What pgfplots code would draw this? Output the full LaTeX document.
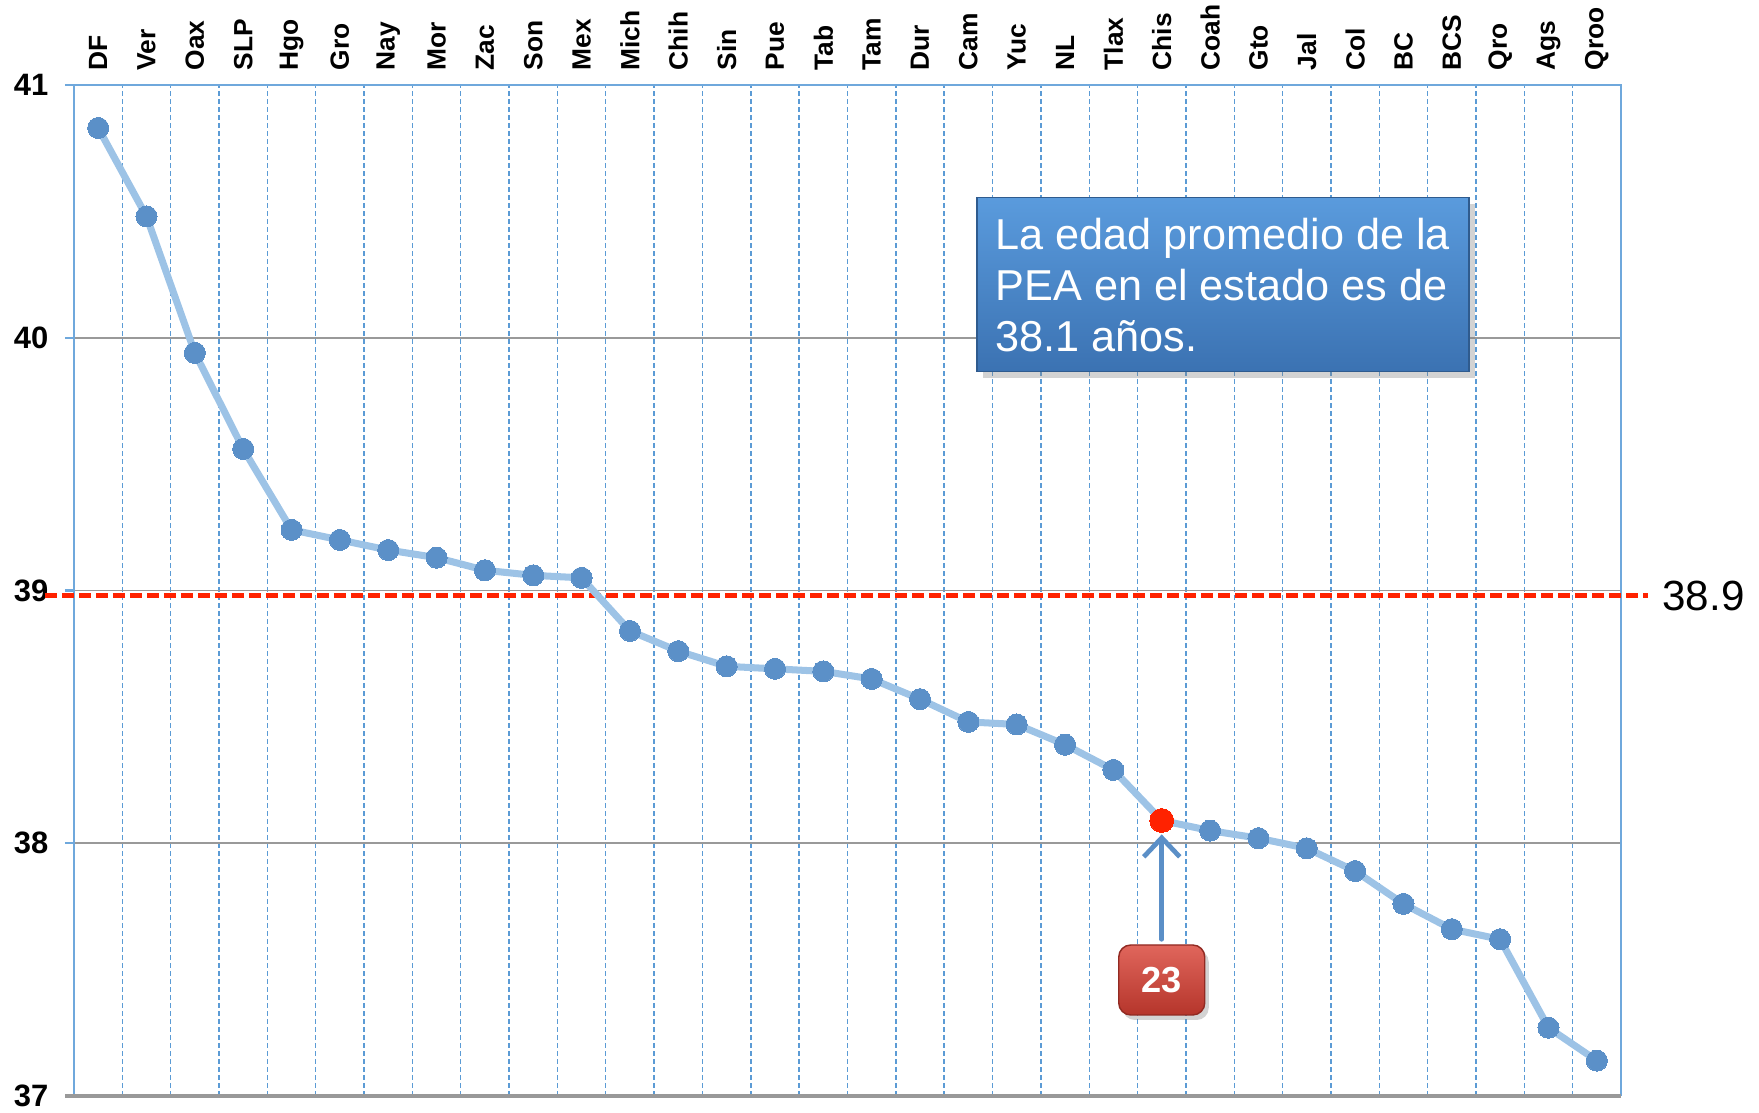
\documentclass[border=0pt]{standalone}
\usepackage{fontspec}
\setmainfont{Liberation Sans}
\usepackage{pgfplots}
\usepackage{pgfplotstable}
\pgfplotsset{compat=1.18}
\usetikzlibrary{shadows,arrows.meta,calc}
\definecolor{lineblue}{HTML}{9DC3E6}
\definecolor{markblue}{HTML}{5B90C8}
\definecolor{gridblue}{HTML}{5B9BD5}
\definecolor{axblue}{HTML}{6FA8DC}
\definecolor{refred}{HTML}{FF2200}
\definecolor{boxtop}{HTML}{5A9BDD}
\definecolor{boxbot}{HTML}{3B72B2}
\definecolor{redtop}{HTML}{E0665C}
\definecolor{redbot}{HTML}{B5352B}
\definecolor{arrowblue}{HTML}{5B8FC7}

\pgfplotstableread{
x y
0 40.83
1 40.48
2 39.94
3 39.56
4 39.24
5 39.20
6 39.16
7 39.13
8 39.08
9 39.06
10 39.05
11 38.84
12 38.76
13 38.70
14 38.69
15 38.68
16 38.65
17 38.57
18 38.48
19 38.47
20 38.39
21 38.29
22 38.09
23 38.05
24 38.02
25 37.98
26 37.89
27 37.76
28 37.66
29 37.62
30 37.27
31 37.14
}\datatable

\begin{document}
\begin{tikzpicture}
\begin{axis}[name=ax, at={(0,0)}, anchor=south west,
  scale only axis, width=154.7mm, height=101.1mm,
  xmin=-0.5, xmax=31.5, ymin=37, ymax=41,
  axis line style={draw=none},
  clip=false,
  xtick={0,...,31},
  xticklabels={DF,Ver,Oax,SLP,Hgo,Gro,Nay,Mor,Zac,Son,Mex,Mich,Chih,Sin,Pue,Tab,Tam,Dur,Cam,Yuc,NL,Tlax,Chis,Coah,Gto,Jal,Col,BC,BCS,Qro,Ags,Qroo},
  xticklabel pos=upper,
  xticklabel style={rotate=90, anchor=west, inner sep=0pt, font=\fontsize{7.5}{8}\selectfont\bfseries},
  xticklabel shift=0.5mm,
  major x tick style={draw=none},
  minor xtick={0.5,1.5,...,30.5},
  minor x tick style={draw=none},
  xminorgrids,
  minor x grid style={gridblue, line width=0.4pt, dash pattern=on 0.5mm off 0.3mm},
  ytick={37,38,39,40,41},
  ytick pos=left,
  tick align=outside,
  major tick length=0.9mm,
  major y tick style={axblue, line width=0.6pt},
  ymajorgrids,
  major y grid style={black!40, line width=0.45pt},
  yticklabel style={font=\fontsize{8.8}{10}\selectfont\bfseries, inner sep=0pt, anchor=east},
  yticklabel shift=1.6mm,
  /pgf/number format/assume math mode=true,
]
\draw[axblue, line width=0.6pt] (rel axis cs:0,0) -- (rel axis cs:0,1) -- (rel axis cs:1,1) -- (rel axis cs:1,0);
\draw[black!40, line width=1.3pt] (axis cs:-0.686,37) -- (axis cs:31.5,37);
\draw[refred, line width=1.3pt, dash pattern=on 1.2mm off 0.5mm] (axis cs:-1.1,38.98) -- (axis cs:32.06,38.98)
  node[anchor=west, black, inner sep=0pt, xshift=1.2mm, font=\fontsize{12}{14}\selectfont] {38.9};
\addplot[lineblue, line width=2pt, line join=round, mark=*, mark size=3pt, mark options={fill=markblue, draw=markblue, line width=0pt}] table[x=x, y=y] {\datatable};
\draw[arrowblue, line width=1.35pt, line cap=round, -{Straight Barb[length=1.9mm, width=3.6mm]}] (axis cs:22,37.62) -- (axis cs:22,38.035);
\addplot[only marks, mark=*, mark size=3.4pt, mark options={fill=refred, draw=refred, line width=0pt}] coordinates {(22,38.09)};
\node[anchor=north west, draw=boxbot!80!black, line width=0.4pt, top color=boxtop, bottom color=boxbot,
  minimum width=49.2mm, minimum height=17.4mm, align=left, text=white,
  font=\fontsize{12.3}{14.5}\selectfont,
  drop shadow={opacity=0.35, shadow xshift=0.6mm, shadow yshift=-0.6mm}]
  at (axis cs:18.16,40.557) {La edad promedio de la\\PEA en el estado es de\\38.1 años.};
\node[rounded corners=1.2mm, top color=redtop, bottom color=redbot, draw=redbot!80!black, line width=0.4pt,
  minimum width=8.6mm, minimum height=7mm, text=white, font=\fontsize{10.3}{12}\selectfont\bfseries,
  drop shadow={opacity=0.35, shadow xshift=0.4mm, shadow yshift=-0.5mm}]
  at (axis cs:22,37.459) {23};
\end{axis}
\pgfresetboundingbox
\path[use as bounding box] ([xshift=-7.4mm,yshift=-1.6mm]ax.south west) rectangle ([xshift=13.8mm,yshift=8.5mm]ax.north east);
\end{tikzpicture}
\end{document}
